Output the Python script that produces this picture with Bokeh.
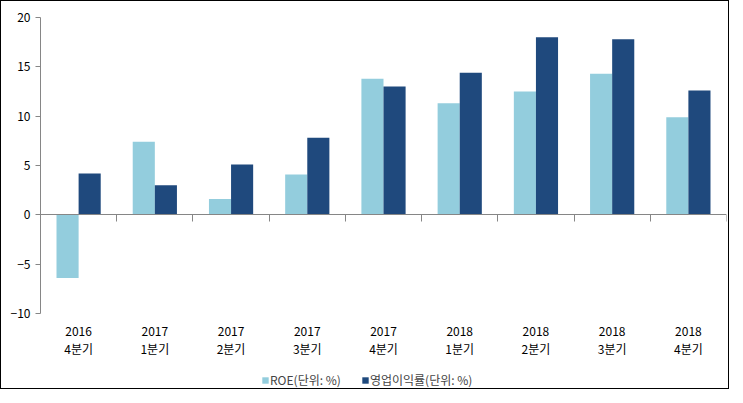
import numpy as np
from bokeh.plotting import figure
from bokeh.layouts import column
from bokeh.models import (ColumnDataSource, Range1d, FixedTicker, LinearAxis,
                          Legend, LegendItem)
from bokeh.transform import dodge
from bokeh.embed import file_html
from bokeh.resources import INLINE

years = ["2016", "2017", "2017", "2017", "2017", "2018", "2018", "2018", "2018"]
quarters = ["4분기", "1분기", "2분기", "3분기", "4분기", "1분기", "2분기", "3분기", "4분기"]
roe = [-6.4, 7.4, 1.6, 4.1, 13.8, 11.3, 12.5, 14.3, 9.9]
op_margin = [4.2, 3.0, 5.1, 7.8, 13.0, 14.4, 18.0, 17.8, 12.6]
y_ticks = [-10, -5, 0, 5, 10, 15, 20]
series_names = ["ROE(단위: %)", "영업이익률(단위: %)"]

FONT = "Noto Sans CJK KR"
GRAY = "#868686"
C1 = "#93CDDD"
C2 = "#1F497D"

n = len(years)
xc = list(np.arange(n) + 0.5)
src = ColumnDataSource(dict(x=xc, roe=roe, op=op_margin))

p = figure(width=727, height=360, output_backend="svg", toolbar_location=None,
           x_range=Range1d(0, n), y_range=Range1d(-10, 20),
           min_border_left=39, min_border_right=2, min_border_top=16,
           min_border_bottom=48, x_axis_location=None)
p.outline_line_color = None
p.xgrid.visible = False
p.ygrid.visible = False

p.vbar(x=dodge("x", -0.145, range=p.x_range), top="roe", width=0.29,
       source=src, color=C1, line_color=None)
p.vbar(x=dodge("x", 0.145, range=p.x_range), top="op", width=0.29,
       source=src, color=C2, line_color=None)

# y axis
ya = p.yaxis[0]
ya.ticker = FixedTicker(ticks=y_ticks)
ya.axis_line_color = GRAY
ya.major_tick_line_color = GRAY
ya.minor_tick_line_color = None
ya.major_tick_out = 5
ya.major_tick_in = 0
ya.major_label_standoff = 5
ya.major_label_text_font = FONT
ya.major_label_text_font_size = "12px"
ya.major_label_text_color = "#000000"

# zero-line axis with boundary ticks
za = LinearAxis(fixed_location=0, ticker=FixedTicker(ticks=list(range(1, n + 1))))
za.axis_line_color = GRAY
za.major_tick_line_color = GRAY
za.minor_tick_line_color = None
za.major_tick_in = 0
za.major_tick_out = 7
za.major_label_text_font_size = "0px"
za.major_label_standoff = 0
za.major_label_overrides = {i: "" for i in range(1, n + 1)}
p.add_layout(za, "below")

# category label axis
la = LinearAxis(ticker=FixedTicker(ticks=xc))
la.major_label_overrides = {float(x): f"{y}\n{q}" for x, y, q in zip(xc, years, quarters)}
la.axis_line_color = None
la.major_tick_line_color = None
la.minor_tick_line_color = None
la.major_label_standoff = 2
la.major_label_text_font = FONT
la.major_label_text_font_size = "12px"
la.major_label_text_line_height = 1.1
la.major_label_text_color = "#000000"
p.add_layout(la, "below")

# legend strip (its bars lie outside its visible range; only the legend shows)
pl = figure(width=727, height=27, output_backend="svg", toolbar_location=None,
            x_range=Range1d(0, n), y_range=Range1d(1000, 1001),
            min_border_left=0, min_border_right=0, min_border_top=0,
            min_border_bottom=0, x_axis_location=None, y_axis_location=None)
pl.outline_line_color = None
pl.xgrid.visible = False
pl.ygrid.visible = False
g1 = pl.vbar(x="x", top="roe", width=0.29, source=src, color=C1, line_color=None)
g2 = pl.vbar(x="x", top="op", width=0.29, source=src, color=C2, line_color=None)
legend = Legend(items=[LegendItem(label=series_names[0], renderers=[g1]),
                       LegendItem(label=series_names[1], renderers=[g2])],
                orientation="horizontal", location=(221, 0),
                glyph_width=8, glyph_height=8, label_standoff=1, spacing=20,
                label_height=10, label_text_baseline="middle",
                label_text_font=FONT, label_text_font_size="12px",
                border_line_color=None, background_fill_alpha=0,
                padding=0, margin=0)
pl.add_layout(legend)

layout = column(p, pl, spacing=0)
layout.styles = {"border": "1px solid black"}

open("out.html", "w").write(file_html(layout, INLINE))
